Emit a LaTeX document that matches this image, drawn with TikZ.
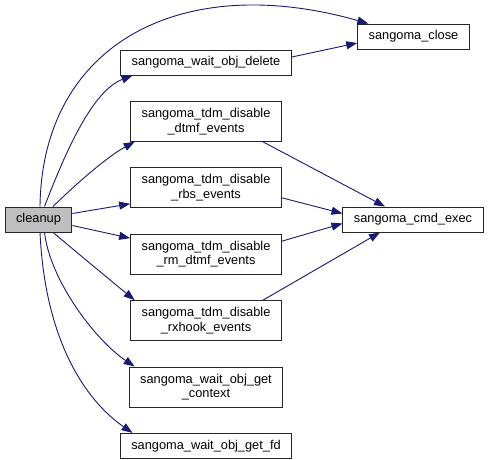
\documentclass[tikz,border=0pt]{standalone}
\usepackage{fontspec}
\setmainfont{Liberation Sans}
\usepackage{xcolor}
\usetikzlibrary{arrows.meta,positioning}
\definecolor{edgeblue}{RGB}{25,25,112}
\definecolor{callergray}{RGB}{191,191,191}

\begin{document}
\begin{tikzpicture}[
    x=1pt, y=-1pt,
    node distance=25.5pt,
    fn/.style={rectangle, draw=black!85, line width=0.9pt, align=center, inner xsep=11pt, inner ysep=3pt, minimum height=25pt, font=\fontsize{12.8}{14.5}\selectfont},
    fnii/.style={fn, minimum height=40pt},
    caller/.style={fn, fill=callergray},
    call/.style={-{Triangle[length=11pt,width=8pt]}, draw=edgeblue, line width=0.9pt}
  ]
    \useasboundingbox (0,0) rectangle (491,460);
    \node[caller] (cleanup) at (38.5,219.5) {cleanup};
    \node[fn] (delete) at (206,62.5) {sangoma\_wait\_obj\_delete};
    \node[fnii, below=of delete] (dtmf) {sangoma\_tdm\_disable\\\_dtmf\_events};
    \node[fnii, below=of dtmf] (rbs) {sangoma\_tdm\_disable\\\_rbs\_events};
    \node[fnii, below=of rbs] (rmdtmf) {sangoma\_tdm\_disable\\\_rm\_dtmf\_events};
    \node[fnii, below=of rmdtmf] (rxhook) {sangoma\_tdm\_disable\\\_rxhook\_events};
    \node[fnii, below=of rxhook] (context) {sangoma\_wait\_obj\_get\\\_context};
    \node[fn, below=of context] (getfd) {sangoma\_wait\_obj\_get\_fd};
    \node[fn] (close) at (413.5,36.5) {sangoma\_close};
    \node[fn] (cmdexec) at (413,219.5) {sangoma\_cmd\_exec};
    % calls from cleanup
    \draw[call] ([xshift=1.5pt]cleanup.north) .. controls (42,45) and (180,-30) .. (close.164);
    \draw[call] ([xshift=6pt]cleanup.north) .. controls (70,140) and (95,90) .. (delete.190);
    \draw[call] ([xshift=14.5pt]cleanup.north) .. controls (80,180) and (110,155) .. (dtmf.196);
    \draw[call] ([yshift=6pt]cleanup.east) -- ([yshift=-16pt]rbs.west);
    \draw[call] ([yshift=-6pt]cleanup.east) -- ([yshift=16pt]rmdtmf.west);
    \draw[call] ([xshift=14.5pt]cleanup.south) .. controls (80,255) and (110,280) .. (rxhook.164);
    \draw[call] ([xshift=6pt]cleanup.south) .. controls (50,280) and (95,340) .. (context.164);
    \draw[call] ([xshift=1.5pt]cleanup.south) .. controls (45,340) and (85,400) .. (getfd.170);
    % calls further down
    \draw[call] ([yshift=5.5pt]delete.east) -- ([yshift=-6.5pt]close.west);
    \draw[call] ([xshift=57pt]dtmf.south) -- ([xshift=-28pt]cmdexec.north);
    \draw[call] ([yshift=-10pt]rbs.east) -- ([yshift=6pt]cmdexec.west);
    \draw[call] ([yshift=13pt]rmdtmf.east) -- ([yshift=-4pt]cmdexec.west);
    \draw[call] ([xshift=57pt]rxhook.north) -- ([xshift=-33pt]cmdexec.south);
  \end{tikzpicture}
\end{document}
